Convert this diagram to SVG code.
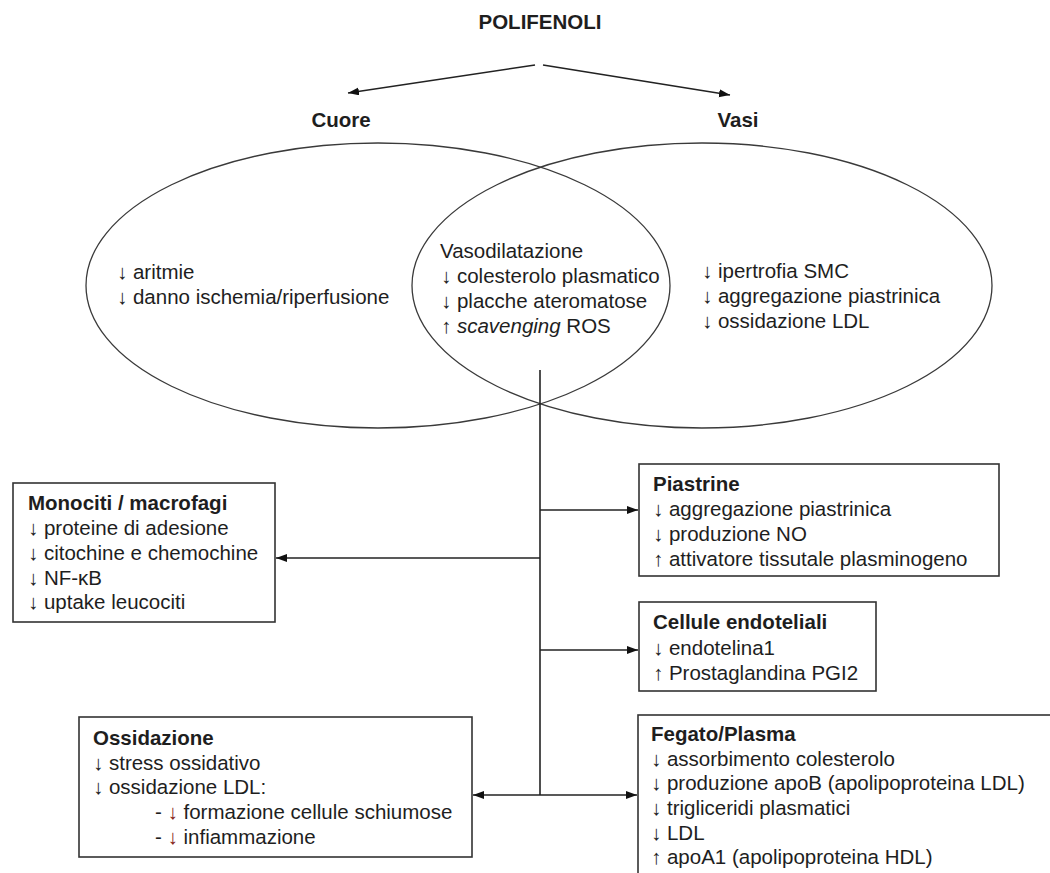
<svg xmlns="http://www.w3.org/2000/svg" width="1050" height="873" viewBox="0 0 1050 873">
  <defs>
    <marker id="head" markerUnits="userSpaceOnUse" markerWidth="12" markerHeight="9" refX="11" refY="4" orient="auto-start-reverse">
      <path d="M0,0 L11,4 L0,8 z" fill="#111"/>
    </marker>
    <style>
      text { font-family: "Liberation Sans", Arial, sans-serif; font-size: 20.5px; fill: #1e1e1e; }
      .b { font-weight: bold; }
      .red { fill: #862420; }
      .it { font-style: italic; }
      .box { fill: #fff; stroke: #333; stroke-width: 1.6; }
      .ell { fill: none; stroke: #3a3a3a; stroke-width: 1.3; }
      .ln { fill: none; stroke: #222; stroke-width: 1.6; }
    </style>
  </defs>

  <rect width="1050" height="873" fill="#fff"/>

  <!-- title -->
  <g id="polifenoli">
    <text class="b" x="540" y="29" text-anchor="middle">POLIFENOLI</text>
  </g>

  <!-- the two overlapping sets -->
  <g id="cuore">
    <ellipse class="ell" cx="378" cy="285.5" rx="292" ry="142.5"/>
    <text class="b" x="341" y="127" text-anchor="middle">Cuore</text>
    <text x="117" y="279">↓ aritmie</text>
    <text x="117" y="304">↓ danno ischemia/riperfusione</text>
  </g>

  <g id="vasi">
    <ellipse class="ell" cx="702" cy="285.5" rx="290" ry="142.5"/>
    <text class="b" x="738" y="127" text-anchor="middle">Vasi</text>
    <text x="702" y="278">↓ ipertrofia SMC</text>
    <text x="702" y="303">↓ aggregazione piastrinica</text>
    <text x="702" y="328">↓ ossidazione LDL</text>
  </g>

  <g id="comune">
    <text x="440" y="258">Vasodilatazione</text>
    <text x="441" y="283">↓ colesterolo plasmatico</text>
    <text x="441" y="308">↓ placche ateromatose</text>
    <text x="441" y="333">↑ <tspan class="it">scavenging</tspan> ROS</text>
  </g>

  <!-- target boxes -->
  <g id="monociti">
    <rect class="box" x="13" y="483" width="262" height="139"/>
    <text class="b" x="28" y="510">Monociti / macrofagi</text>
    <text x="28" y="535">↓ proteine di adesione</text>
    <text x="28" y="560">↓ citochine e chemochine</text>
    <text x="28" y="585">↓ NF-κB</text>
    <text x="28" y="609">↓ uptake leucociti</text>
  </g>

  <g id="piastrine">
    <rect class="box" x="639" y="464" width="360" height="112"/>
    <text class="b" x="653" y="491">Piastrine</text>
    <text x="653" y="516">↓ aggregazione piastrinica</text>
    <text x="653" y="541">↓ produzione NO</text>
    <text x="653" y="566">↑ attivatore tissutale plasminogeno</text>
  </g>

  <g id="endoteliali">
    <rect class="box" x="639" y="602" width="237" height="89"/>
    <text class="b" x="653" y="629">Cellule endoteliali</text>
    <text x="653" y="655">↓ endotelina1</text>
    <text x="653" y="680">↑ Prostaglandina PGI2</text>
  </g>

  <g id="ossidazione">
    <rect class="box" x="79" y="717" width="393" height="140"/>
    <text class="b" x="93" y="745">Ossidazione</text>
    <text x="93" y="770">↓ stress ossidativo</text>
    <text x="93" y="794">↓ ossidazione LDL:</text>
    <text x="155" y="819">- <tspan class="red">↓</tspan> formazione cellule schiumose</text>
    <text x="155" y="844">- <tspan class="red">↓</tspan> infiammazione</text>
  </g>

  <g id="fegato">
    <rect class="box" x="638" y="715" width="500" height="300"/>
    <text class="b" x="651" y="741">Fegato/Plasma</text>
    <text x="651" y="766">↓ assorbimento colesterolo</text>
    <text x="651" y="790">↓ produzione apoB (apolipoproteina LDL)</text>
    <text x="651" y="815">↓ trigliceridi plasmatici</text>
    <text x="651" y="840">↓ LDL</text>
    <text x="651" y="864">↑ apoA1 (apolipoproteina HDL)</text>
  </g>

  <!-- connectors -->
  <g id="connectors">
    <line class="ln" x1="535" y1="65" x2="348" y2="93" marker-end="url(#head)"/>
    <line class="ln" x1="543" y1="65" x2="730" y2="95" marker-end="url(#head)"/>
    <line class="ln" x1="540" y1="370" x2="540" y2="795"/>
    <line class="ln" x1="540" y1="510" x2="638" y2="510" marker-end="url(#head)"/>
    <line class="ln" x1="540" y1="558" x2="276" y2="558" marker-end="url(#head)"/>
    <line class="ln" x1="540" y1="650" x2="638" y2="650" marker-end="url(#head)"/>
    <line class="ln" x1="473" y1="795" x2="637" y2="795" marker-start="url(#head)" marker-end="url(#head)"/>
  </g>
</svg>
